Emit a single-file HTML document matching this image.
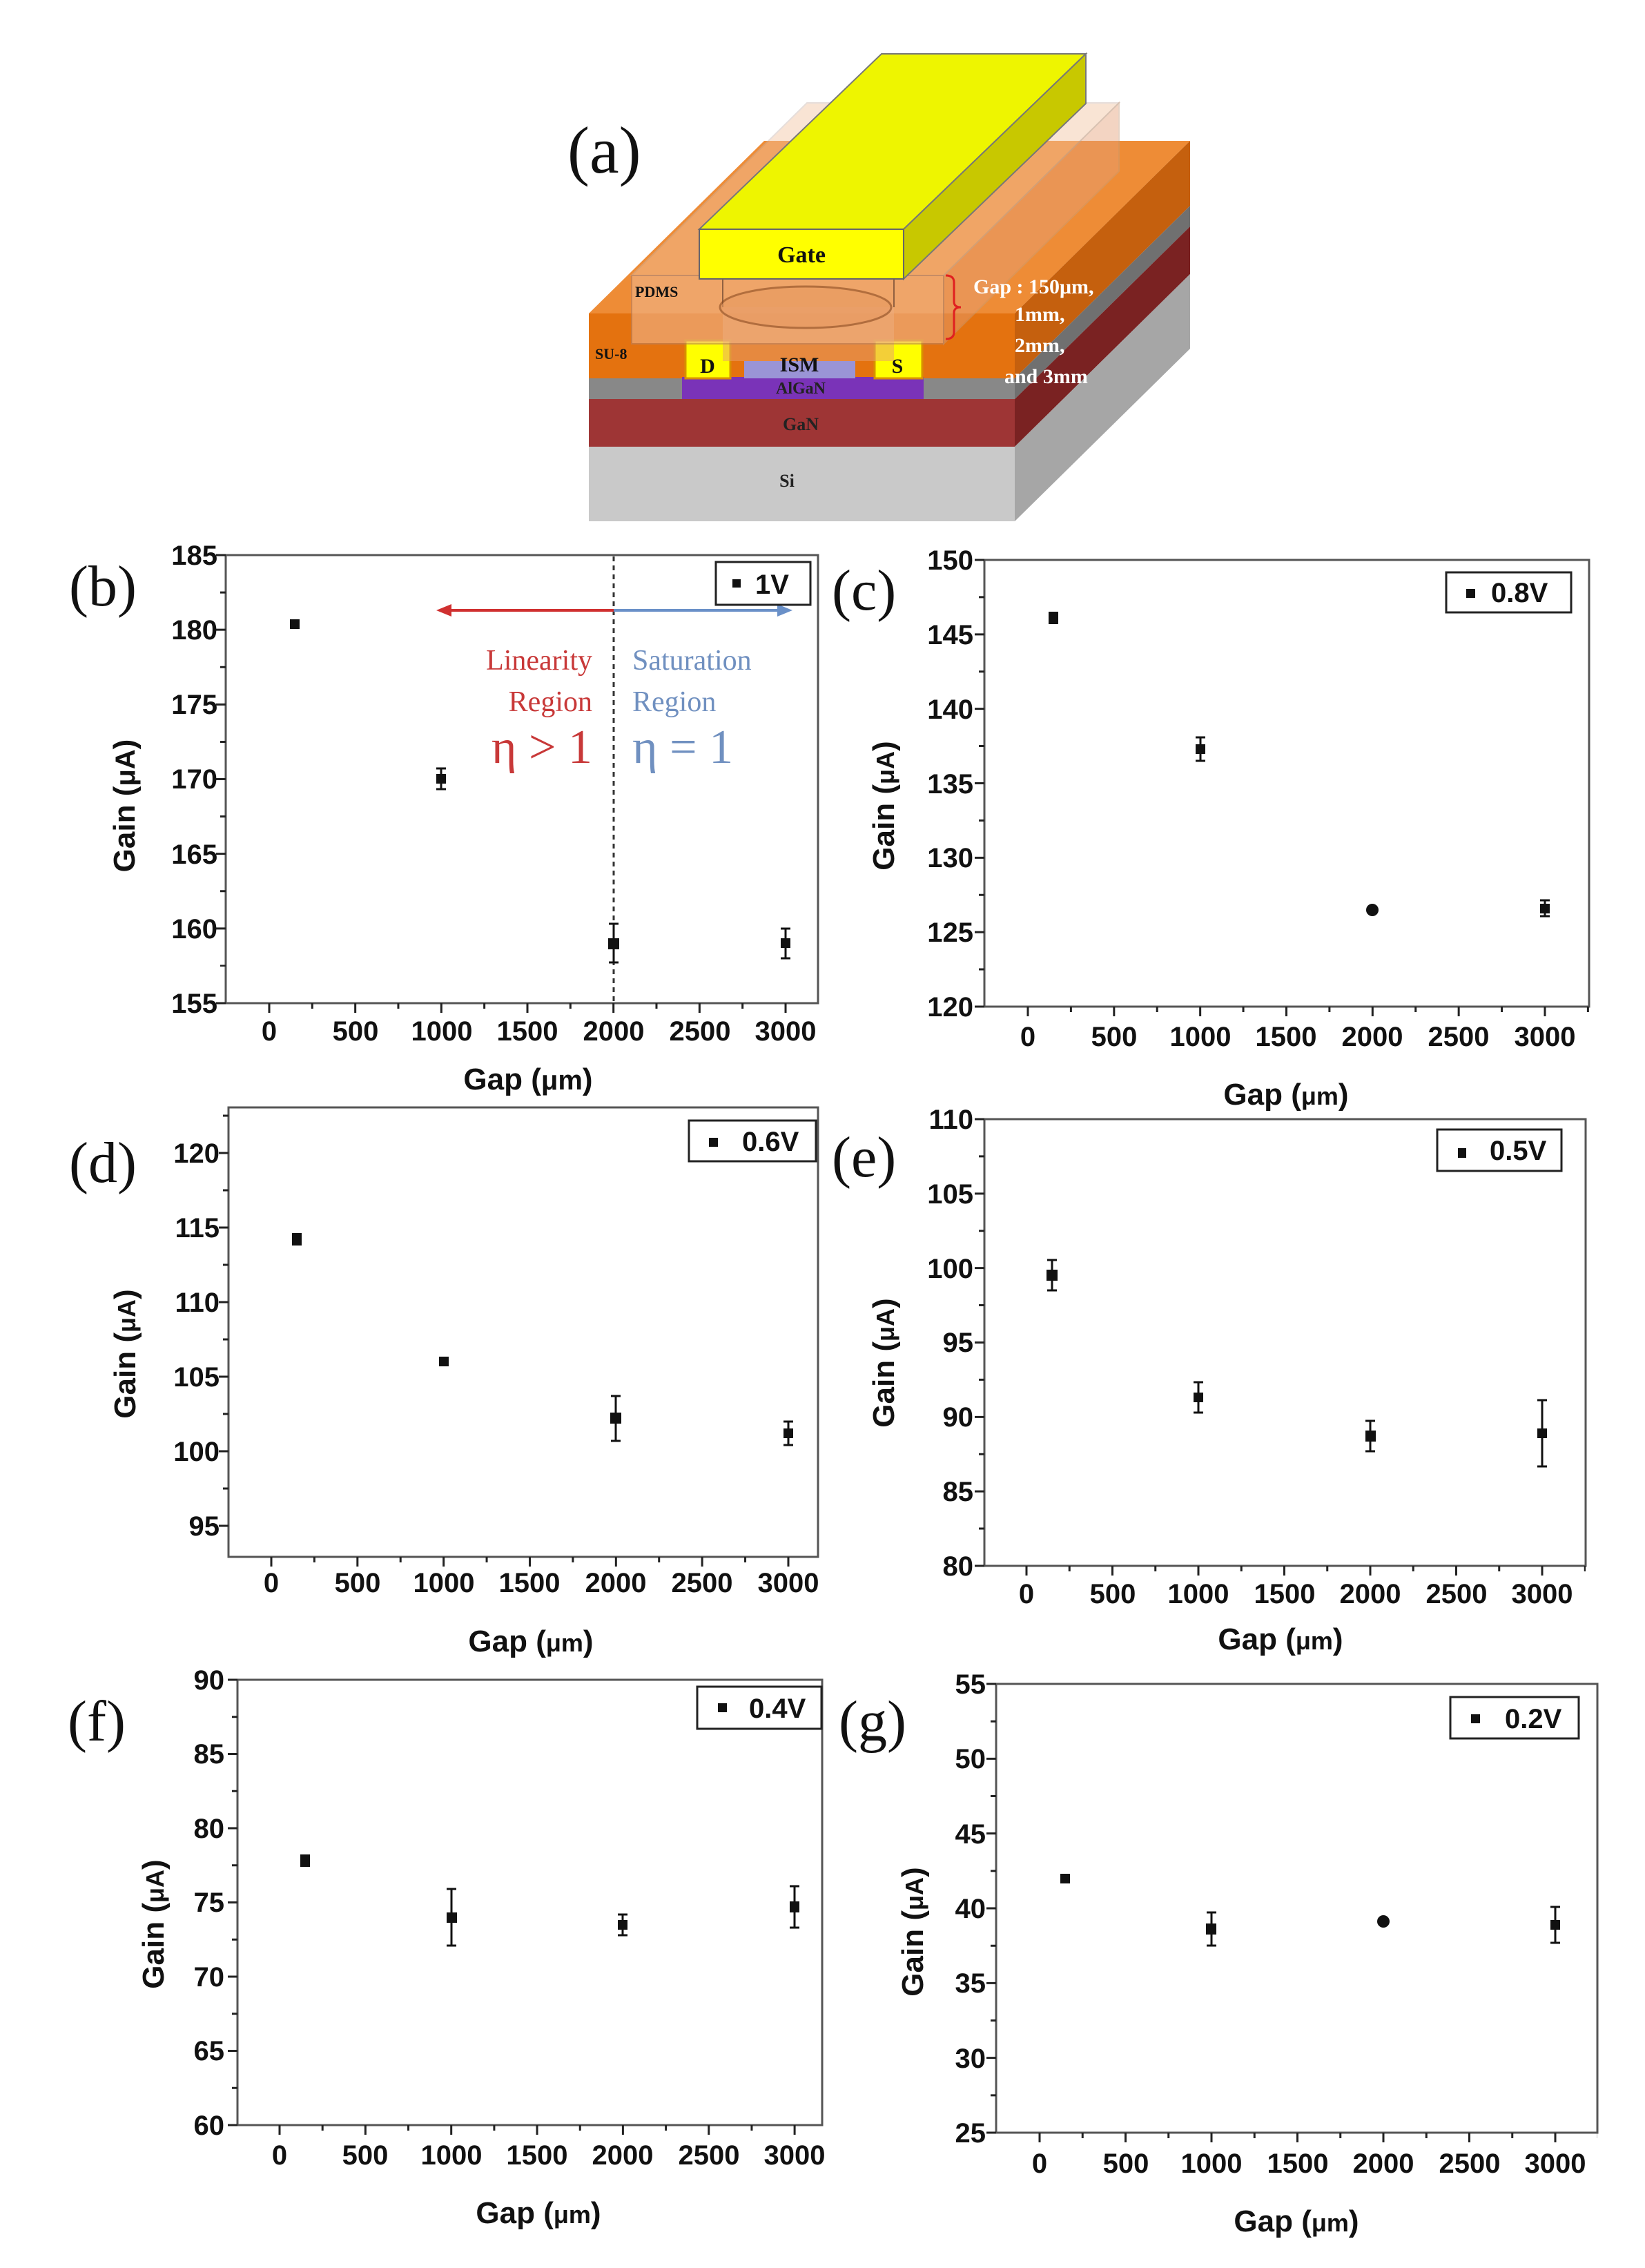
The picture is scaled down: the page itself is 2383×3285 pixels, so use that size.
<!DOCTYPE html>
<html><head><meta charset="utf-8"><style>
html,body{margin:0;padding:0;background:#fff}
svg{display:block}
.t{font-family:"Liberation Sans",sans-serif;font-weight:bold;font-size:40px;fill:#111}
.yl{text-anchor:end}
.xl{text-anchor:middle}
.pl{font-family:"Liberation Serif",serif;font-size:84px;fill:#111}
.ti{font-family:"Liberation Sans",sans-serif;font-weight:bold;font-size:44px;fill:#111}
.ds{font-family:"Liberation Serif",serif;font-weight:bold;fill:#111}
</style></head><body>
<svg width="2383" height="3285" viewBox="0 0 2383 3285" xmlns="http://www.w3.org/2000/svg">
<rect width="2383" height="3285" fill="#fff"/>

<!-- (a) diagram -->
<text x="822" y="250" class="pl" style="font-size:96px">(a)</text>
<polygon points="853,454 1470,454 1724,204 1107,204" fill="#ee8c36"/>
<polygon points="1470,454 1724,204 1724,298 1470,548" fill="#c5600e"/>
<polygon points="1470,548 1724,298 1724,328 1470,578" fill="#707070"/>
<polygon points="1470,578 1724,328 1724,397 1470,647" fill="#7a2222"/>
<polygon points="1470,647 1724,397 1724,505 1470,755" fill="#a6a6a6"/>
<rect x="853" y="454" width="617" height="94" fill="#e4720f"/>
<rect x="853" y="548" width="617" height="30" fill="#888"/>
<rect x="853" y="578" width="617" height="69" fill="#9e3535"/>
<rect x="853" y="647" width="617" height="108" fill="#c9c9c9"/>
<rect x="988" y="546" width="350" height="32" fill="#7a33b8"/>
<rect x="993" y="493" width="65" height="55" fill="#ffff00" stroke="#d89000" stroke-width="3"/>
<rect x="1267" y="493" width="69" height="55" fill="#ffff00" stroke="#d89000" stroke-width="3"/>
<rect x="1078" y="523" width="161" height="25" fill="#9a94d6"/>
<rect x="1047" y="445" width="248" height="78" fill="#e8a070" opacity="0.5"/>
<!-- PDMS translucent block -->
<polygon points="915,399 1367,399 1621,149 1169,149" fill="#f3c4a2" opacity="0.45" stroke="#c8b8b0" stroke-width="2"/>
<polygon points="1367,399 1621,149 1621,248 1367,498" fill="#e6a27a" opacity="0.45" stroke="#c8a080" stroke-width="2"/>
<rect x="915" y="399" width="452" height="99" fill="#f0b68c" opacity="0.6" stroke="#b88060" stroke-width="2"/>
<line x1="1047" y1="399" x2="1047" y2="445" stroke="#906040" stroke-width="2"/>
<line x1="1295" y1="399" x2="1295" y2="445" stroke="#906040" stroke-width="2"/>
<ellipse cx="1167" cy="445" rx="124" ry="30" fill="#e89a60" opacity="0.6" stroke="#8a4a20" stroke-width="3"/>
<!-- gate -->
<polygon points="1013,332 1309,332 1573,78 1277,78" fill="#eef500" stroke="#777" stroke-width="2"/>
<polygon points="1309,332 1573,78 1573,150 1309,404" fill="#c8c800" stroke="#777" stroke-width="2"/>
<rect x="1013" y="332" width="296" height="72" fill="#ffff00" stroke="#666" stroke-width="2"/>
<text x="1161" y="380" class="ds" style="font-size:34px" text-anchor="middle">Gate</text>
<text x="920" y="430" class="ds" style="font-size:22px">PDMS</text>
<text x="862" y="520" class="ds" style="font-size:22px">SU-8</text>
<text x="1025" y="540" class="ds" style="font-size:30px" text-anchor="middle">D</text>
<text x="1300" y="540" class="ds" style="font-size:30px" text-anchor="middle">S</text>
<text x="1158" y="538" class="ds" style="font-size:30px" text-anchor="middle">ISM</text>
<text x="1160" y="570" class="ds" style="font-size:24px;fill:#222" text-anchor="middle">AlGaN</text>
<text x="1160" y="623" class="ds" style="font-size:26px;fill:#222" text-anchor="middle">GaN</text>
<text x="1140" y="705" class="ds" style="font-size:26px;fill:#222" text-anchor="middle">Si</text>
<path d="M1370,399 q12,0 12,10 v28 q0,8 10,8 q-10,0 -10,8 v28 q0,10 -12,10" fill="none" stroke="#e02020" stroke-width="3"/>
<g class="ds" style="font-size:30px;fill:#fff">
<text x="1410" y="425">Gap : 150μm,</text>
<text x="1470" y="465">1mm,</text>
<text x="1470" y="510">2mm,</text>
<text x="1455" y="555">and 3mm</text>
</g>

<!-- (b) -->
<g>
<text x="100" y="877" class="pl">(b)</text>
<rect x="327" y="804" width="858" height="649" fill="none" stroke="#555" stroke-width="3"/>
<line x1="320" y1="802.5" x2="320" y2="1454.5" stroke="#222" stroke-width="14" stroke-dasharray="3 105.17"/>
<line x1="323" y1="856.6" x2="323" y2="1400" stroke="#222" stroke-width="8" stroke-dasharray="3 105.17"/>
<line x1="388.5" y1="1460" x2="1185" y2="1460" stroke="#222" stroke-width="14" stroke-dasharray="3 121.67"/>
<line x1="450.8" y1="1457" x2="1185" y2="1457" stroke="#222" stroke-width="8" stroke-dasharray="3 121.67"/>
<g class="t yl"><text x="315" y="818">185</text><text x="315" y="926">180</text><text x="315" y="1034">175</text><text x="315" y="1142">170</text><text x="315" y="1251">165</text><text x="315" y="1359">160</text><text x="315" y="1467">155</text></g>
<g class="t xl"><text x="390" y="1507">0</text><text x="515" y="1507">500</text><text x="640" y="1507">1000</text><text x="764" y="1507">1500</text><text x="889" y="1507">2000</text><text x="1014" y="1507">2500</text><text x="1138" y="1507">3000</text></g>
<text x="765" y="1578" class="ti" text-anchor="middle">Gap (<tspan style="font-size:40px">μm</tspan>)</text>
<text transform="translate(195,1167) rotate(-90)" class="ti" text-anchor="middle">Gain (<tspan style="font-size:40px">μA</tspan>)</text>
<line x1="889" y1="806" x2="889" y2="1451" stroke="#333" stroke-width="3" stroke-dasharray="7 6"/>
<line x1="645" y1="884" x2="889" y2="884" stroke="#d03030" stroke-width="4"/>
<polygon points="632,884 654,875 654,893" fill="#d03030"/>
<line x1="889" y1="884" x2="1135" y2="884" stroke="#6a90c8" stroke-width="4"/>
<polygon points="1148,884 1126,875 1126,893" fill="#6a90c8"/>
<g style="font-family:'Liberation Serif',serif;font-size:42px;fill:#c83838" text-anchor="end"><text x="858" y="970">Linearity</text><text x="858" y="1030">Region</text><text x="858" y="1105" style="font-size:70px">η &gt; 1</text></g>
<g style="font-family:'Liberation Serif',serif;font-size:42px;fill:#7090c0"><text x="916" y="970">Saturation</text><text x="916" y="1030">Region</text><text x="916" y="1105" style="font-size:70px">η = 1</text></g>
<rect x="1037" y="814" width="137" height="62" fill="#fff" stroke="#222" stroke-width="3"/>
<rect x="1061" y="839" width="12" height="12" fill="#111"/>
<text x="1094" y="860" class="t">1V</text>
<g stroke="#111" stroke-width="3"><line x1="639" y1="1113" x2="639" y2="1143"/><line x1="632" y1="1113" x2="646" y2="1113"/><line x1="632" y1="1143" x2="646" y2="1143"/>
<line x1="889" y1="1338" x2="889" y2="1394"/><line x1="882" y1="1338" x2="896" y2="1338"/><line x1="882" y1="1394" x2="896" y2="1394"/>
<line x1="1138" y1="1345" x2="1138" y2="1388"/><line x1="1131" y1="1345" x2="1145" y2="1345"/><line x1="1131" y1="1388" x2="1145" y2="1388"/></g>
<g fill="#111"><rect x="420" y="897" width="14" height="14"/><rect x="632" y="1121" width="14" height="14"/><rect x="881" y="1359" width="16" height="16"/><rect x="1131" y="1359" width="14" height="14"/></g>
</g>

<!-- (c) -->
<g>
<text x="1205" y="883" class="pl">(c)</text>
<rect x="1426" y="811" width="876" height="647" fill="none" stroke="#555" stroke-width="3"/>
<line x1="1419" y1="809.5" x2="1419" y2="1459.5" stroke="#222" stroke-width="14" stroke-dasharray="3 104.83"/>
<line x1="1422" y1="863.4" x2="1422" y2="1410" stroke="#222" stroke-width="8" stroke-dasharray="3 104.83"/>
<line x1="1487.5" y1="1465" x2="2302" y2="1465" stroke="#222" stroke-width="14" stroke-dasharray="3 121.83"/>
<line x1="1549.9" y1="1462" x2="2302" y2="1462" stroke="#222" stroke-width="8" stroke-dasharray="3 121.83"/>
<g class="t yl"><text x="1410" y="825">150</text><text x="1410" y="933">145</text><text x="1410" y="1041">140</text><text x="1410" y="1149">135</text><text x="1410" y="1256">130</text><text x="1410" y="1364">125</text><text x="1410" y="1472">120</text></g>
<g class="t xl"><text x="1489" y="1515">0</text><text x="1614" y="1515">500</text><text x="1739" y="1515">1000</text><text x="1863" y="1515">1500</text><text x="1988" y="1515">2000</text><text x="2113" y="1515">2500</text><text x="2238" y="1515">3000</text></g>
<text x="1863" y="1600" class="ti" text-anchor="middle">Gap (<tspan style="font-size:36px">μm</tspan>)</text>
<text transform="translate(1295,1167) rotate(-90)" class="ti" text-anchor="middle">Gain (<tspan style="font-size:36px">μA</tspan>)</text>
<rect x="2095" y="829" width="181" height="58" fill="#fff" stroke="#222" stroke-width="3"/>
<rect x="2124" y="853" width="13" height="13" fill="#111"/>
<text x="2160" y="872" class="t">0.8V</text>
<g stroke="#111" stroke-width="3"><line x1="1739" y1="1068" x2="1739" y2="1102"/><line x1="1732" y1="1068" x2="1746" y2="1068"/><line x1="1732" y1="1102" x2="1746" y2="1102"/>
<line x1="2238" y1="1304" x2="2238" y2="1327"/><line x1="2231" y1="1304" x2="2245" y2="1304"/><line x1="2231" y1="1327" x2="2245" y2="1327"/></g>
<g fill="#111"><rect x="1519" y="886" width="14" height="18"/><rect x="1732" y="1078" width="14" height="14"/><circle cx="1988" cy="1318" r="9"/><rect x="2231" y="1309" width="14" height="14"/></g>
</g>

<!-- (d) -->
<g>
<text x="100" y="1712" class="pl">(d)</text>
<rect x="331" y="1604" width="854" height="651" fill="none" stroke="#555" stroke-width="3"/>
<line x1="324" y1="1668.5" x2="324" y2="2255" stroke="#222" stroke-width="14" stroke-dasharray="3 105"/>
<line x1="327" y1="1614.5" x2="327" y2="2255" stroke="#222" stroke-width="8" stroke-dasharray="3 105"/>
<line x1="391.5" y1="2262" x2="1185" y2="2262" stroke="#222" stroke-width="14" stroke-dasharray="3 121.83"/>
<line x1="453.9" y1="2259" x2="1185" y2="2259" stroke="#222" stroke-width="8" stroke-dasharray="3 121.83"/>
<g class="t yl"><text x="318" y="1684">120</text><text x="318" y="1792">115</text><text x="318" y="1900">110</text><text x="318" y="2008">105</text><text x="318" y="2116">100</text><text x="318" y="2224">95</text></g>
<g class="t xl"><text x="393" y="2306">0</text><text x="518" y="2306">500</text><text x="643" y="2306">1000</text><text x="767" y="2306">1500</text><text x="892" y="2306">2000</text><text x="1017" y="2306">2500</text><text x="1142" y="2306">3000</text></g>
<text x="769" y="2392" class="ti" text-anchor="middle">Gap (<tspan style="font-size:36px">μm</tspan>)</text>
<text transform="translate(196,1961) rotate(-90)" class="ti" text-anchor="middle">Gain (<tspan style="font-size:36px">μA</tspan>)</text>
<rect x="998" y="1623" width="184" height="59" fill="#fff" stroke="#222" stroke-width="3"/>
<rect x="1027" y="1648" width="13" height="13" fill="#111"/>
<text x="1075" y="1667" class="t">0.6V</text>
<g stroke="#111" stroke-width="3"><line x1="892" y1="2022" x2="892" y2="2087"/><line x1="885" y1="2022" x2="899" y2="2022"/><line x1="885" y1="2087" x2="899" y2="2087"/>
<line x1="1142" y1="2059" x2="1142" y2="2093"/><line x1="1135" y1="2059" x2="1149" y2="2059"/><line x1="1135" y1="2093" x2="1149" y2="2093"/></g>
<g fill="#111"><rect x="423" y="1786" width="14" height="18"/><rect x="636" y="1965" width="14" height="14"/><rect x="884" y="2046" width="16" height="16"/><rect x="1135" y="2069" width="14" height="14"/></g>
</g>

<!-- (e) -->
<g>
<text x="1205" y="1704" class="pl">(e)</text>
<rect x="1426" y="1621" width="871" height="647" fill="none" stroke="#555" stroke-width="3"/>
<line x1="1419" y1="1619.5" x2="1419" y2="2269.5" stroke="#222" stroke-width="14" stroke-dasharray="3 104.83"/>
<line x1="1422" y1="1673.4" x2="1422" y2="2220" stroke="#222" stroke-width="8" stroke-dasharray="3 104.83"/>
<line x1="1485.5" y1="2275" x2="2297" y2="2275" stroke="#222" stroke-width="14" stroke-dasharray="3 121.5"/>
<line x1="1547.75" y1="2272" x2="2297" y2="2272" stroke="#222" stroke-width="8" stroke-dasharray="3 121.5"/>
<g class="t yl"><text x="1410" y="1635">110</text><text x="1410" y="1743">105</text><text x="1410" y="1851">100</text><text x="1410" y="1958">95</text><text x="1410" y="2066">90</text><text x="1410" y="2174">85</text><text x="1410" y="2282">80</text></g>
<g class="t xl"><text x="1487" y="2322">0</text><text x="1612" y="2322">500</text><text x="1736" y="2322">1000</text><text x="1861" y="2322">1500</text><text x="1985" y="2322">2000</text><text x="2110" y="2322">2500</text><text x="2234" y="2322">3000</text></g>
<text x="1855" y="2389" class="ti" text-anchor="middle">Gap (<tspan style="font-size:36px">μm</tspan>)</text>
<text transform="translate(1295,1974) rotate(-90)" class="ti" text-anchor="middle">Gain (<tspan style="font-size:36px">μA</tspan>)</text>
<rect x="2082" y="1636" width="180" height="60" fill="#fff" stroke="#222" stroke-width="3"/>
<rect x="2112" y="1663" width="12" height="14" fill="#111"/>
<text x="2158" y="1680" class="t">0.5V</text>
<g stroke="#111" stroke-width="3"><line x1="1524" y1="1825" x2="1524" y2="1869"/><line x1="1517" y1="1825" x2="1531" y2="1825"/><line x1="1517" y1="1869" x2="1531" y2="1869"/>
<line x1="1736" y1="2002" x2="1736" y2="2046"/><line x1="1729" y1="2002" x2="1743" y2="2002"/><line x1="1729" y1="2046" x2="1743" y2="2046"/>
<line x1="1985" y1="2058" x2="1985" y2="2102"/><line x1="1978" y1="2058" x2="1992" y2="2058"/><line x1="1978" y1="2102" x2="1992" y2="2102"/>
<line x1="2234" y1="2028" x2="2234" y2="2124"/><line x1="2227" y1="2028" x2="2241" y2="2028"/><line x1="2227" y1="2124" x2="2241" y2="2124"/></g>
<g fill="#111"><rect x="1516" y="1839" width="16" height="16"/><rect x="1729" y="2017" width="14" height="14"/><rect x="1978" y="2072" width="15" height="16"/><rect x="2227" y="2069" width="14" height="14"/></g>
</g>

<!-- (f) -->
<g>
<text x="98" y="2521" class="pl">(f)</text>
<rect x="344" y="2433" width="847" height="645" fill="none" stroke="#555" stroke-width="3"/>
<line x1="337" y1="2431.5" x2="337" y2="3079.5" stroke="#222" stroke-width="14" stroke-dasharray="3 104.5"/>
<line x1="340" y1="2485.25" x2="340" y2="3030" stroke="#222" stroke-width="8" stroke-dasharray="3 104.5"/>
<line x1="403.5" y1="3085" x2="1191" y2="3085" stroke="#222" stroke-width="14" stroke-dasharray="3 121.35"/>
<line x1="465.7" y1="3082" x2="1191" y2="3082" stroke="#222" stroke-width="8" stroke-dasharray="3 121.35"/>
<g class="t yl"><text x="325" y="2447">90</text><text x="325" y="2554">85</text><text x="325" y="2662">80</text><text x="325" y="2769">75</text><text x="325" y="2877">70</text><text x="325" y="2984">65</text><text x="325" y="3092">60</text></g>
<g class="t xl"><text x="405" y="3135">0</text><text x="529" y="3135">500</text><text x="654" y="3135">1000</text><text x="778" y="3135">1500</text><text x="902" y="3135">2000</text><text x="1027" y="3135">2500</text><text x="1151" y="3135">3000</text></g>
<text x="780" y="3220" class="ti" text-anchor="middle">Gap (<tspan style="font-size:36px">μm</tspan>)</text>
<text transform="translate(237,2787) rotate(-90)" class="ti" text-anchor="middle">Gain (<tspan style="font-size:36px">μA</tspan>)</text>
<rect x="1010" y="2443" width="180" height="61" fill="#fff" stroke="#222" stroke-width="3"/>
<rect x="1040" y="2467" width="13" height="13" fill="#111"/>
<text x="1085" y="2488" class="t">0.4V</text>
<g stroke="#111" stroke-width="3"><line x1="654" y1="2736" x2="654" y2="2818"/><line x1="647" y1="2736" x2="661" y2="2736"/><line x1="647" y1="2818" x2="661" y2="2818"/>
<line x1="902" y1="2773" x2="902" y2="2803"/><line x1="895" y1="2773" x2="909" y2="2773"/><line x1="895" y1="2803" x2="909" y2="2803"/>
<line x1="1151" y1="2732" x2="1151" y2="2792"/><line x1="1144" y1="2732" x2="1158" y2="2732"/><line x1="1144" y1="2792" x2="1158" y2="2792"/></g>
<g fill="#111"><rect x="435" y="2686" width="14" height="18"/><rect x="647" y="2770" width="15" height="15"/><rect x="895" y="2781" width="14" height="14"/><rect x="1144" y="2754" width="14" height="16"/></g>
</g>

<!-- (g) -->
<g>
<text x="1215" y="2521" class="pl">(g)</text>
<rect x="1443" y="2439" width="871" height="650" fill="none" stroke="#555" stroke-width="3"/>
<line x1="1436" y1="2437.5" x2="1436" y2="3090.5" stroke="#222" stroke-width="14" stroke-dasharray="3 105.33"/>
<line x1="1439" y1="2491.7" x2="1439" y2="3040" stroke="#222" stroke-width="8" stroke-dasharray="3 105.33"/>
<line x1="1504.5" y1="3096" x2="2314" y2="3096" stroke="#222" stroke-width="14" stroke-dasharray="3 121.5"/>
<line x1="1566.75" y1="3093" x2="2314" y2="3093" stroke="#222" stroke-width="8" stroke-dasharray="3 121.5"/>
<g class="t yl"><text x="1428" y="2453">55</text><text x="1428" y="2561">50</text><text x="1428" y="2670">45</text><text x="1428" y="2778">40</text><text x="1428" y="2886">35</text><text x="1428" y="2995">30</text><text x="1428" y="3103">25</text></g>
<g class="t xl"><text x="1506" y="3147">0</text><text x="1631" y="3147">500</text><text x="1755" y="3147">1000</text><text x="1880" y="3147">1500</text><text x="2004" y="3147">2000</text><text x="2129" y="3147">2500</text><text x="2253" y="3147">3000</text></g>
<text x="1878" y="3232" class="ti" text-anchor="middle">Gap (<tspan style="font-size:36px">μm</tspan>)</text>
<text transform="translate(1337,2798) rotate(-90)" class="ti" text-anchor="middle">Gain (<tspan style="font-size:36px">μA</tspan>)</text>
<rect x="2101" y="2458" width="186" height="60" fill="#fff" stroke="#222" stroke-width="3"/>
<rect x="2131" y="2483" width="13" height="13" fill="#111"/>
<text x="2180" y="2503" class="t">0.2V</text>
<g stroke="#111" stroke-width="3"><line x1="1755" y1="2770" x2="1755" y2="2818"/><line x1="1748" y1="2770" x2="1762" y2="2770"/><line x1="1748" y1="2818" x2="1762" y2="2818"/>
<line x1="2253" y1="2762" x2="2253" y2="2814"/><line x1="2246" y1="2762" x2="2260" y2="2762"/><line x1="2246" y1="2814" x2="2260" y2="2814"/></g>
<g fill="#111"><rect x="1536" y="2714" width="14" height="14"/><rect x="1747" y="2786" width="15" height="16"/><circle cx="2004" cy="2783" r="9"/><rect x="2246" y="2781" width="14" height="14"/></g>
</g>
</svg>
</body></html>
